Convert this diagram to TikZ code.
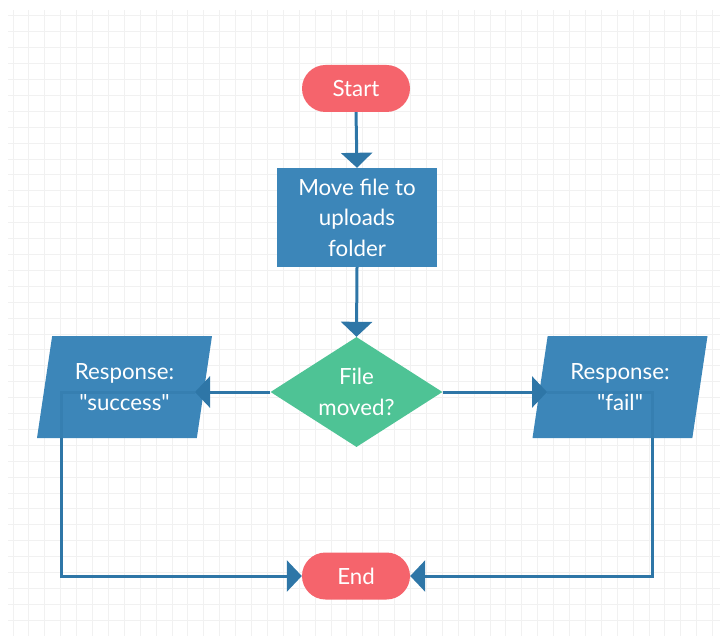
\documentclass[tikz,border=0pt]{standalone}
\usepackage{fontspec}
\setmainfont{Lato}[Ligatures=TeXOff]
\usetikzlibrary{shapes.geometric,arrows.meta}

\definecolor{termred}{HTML}{F5646C}
\definecolor{procblue}{HTML}{3C86B9}
\definecolor{decgreen}{HTML}{4EC395}
\definecolor{linkblue}{HTML}{2E76A7}
\definecolor{gridgray}{HTML}{F1F1F1}

\pgfdeclarelayer{gridlayer}
\pgfdeclarelayer{links}
\pgfdeclarelayer{overlay}
\pgfsetlayers{gridlayer,links,main,overlay}

\tikzset{
  x=1pt, y=-1pt,
  label text/.style={text=white, font=\fontsize{22.3}{30.5}\selectfont, align=center},
  terminal/.style={label text, fill=termred, rounded corners=23.5pt,
    minimum width=108pt, minimum height=47pt, inner sep=0pt},
  process/.style={label text, fill=procblue,
    minimum width=160pt, minimum height=99pt, inner sep=0pt},
  decision/.style={label text, fill=decgreen, diamond, aspect=1.56,
    minimum width=172pt, minimum height=110pt, inner sep=0pt},
  io/.style={label text, fill=procblue,
    trapezium, trapezium left angle=72, trapezium right angle=108,
    trapezium stretches body, minimum width=175pt, minimum height=102pt,
    inner sep=0pt},
  link/.style={draw=linkblue, line width=3pt},
  seethrough/.style={link, draw opacity=0.4},
  flow/.style={link, -{Triangle[width=31pt,length=15pt]}},
}

\begin{document}
\begin{tikzpicture}
\useasboundingbox (0,0) rectangle (722,636);

% background grid
\begin{pgfonlayer}{gridlayer}
  \foreach \i in {0,...,44} {
    \draw[gridgray, line width=1pt] (13+15.9*\i,10) -- (13+15.9*\i,636);
  }
  \foreach \j in {0,...,38} {
    \draw[gridgray, line width=1pt] (8,16+15.9*\j) -- (720,16+15.9*\j);
  }
\end{pgfonlayer}

% nodes
\node[terminal] (start) at (356,88.5) {Start};
\node[process] (move) at (357,217.5) {Move file to\\uploads\\folder};
\node[decision] (moved) at (356.5,392) {File\\moved?};
\node[io] (success) at (124.5,387) {Response:\\"success"};
\node[io] (fail) at (620,387) {Response:\\"fail"};
\node[terminal] (end) at (356,576) {End};

% turning points of the return paths
\coordinate (sTurn) at (61,392);
\coordinate (fTurn) at (652,392);
\coordinate (sTip) at (195,392);
\coordinate (fTip) at (547,392);

% return paths, running behind the response shapes
\begin{pgfonlayer}{links}
  \draw[flow] (sTurn) |- (end.west);
  \draw[flow] (fTurn) |- (end.east);
\end{pgfonlayer}

% forward connectors
\draw[flow] (start.south) -- (move.north);
\draw[flow] (move.south) -- (moved.north);
\draw[flow] (moved.west) -- (sTip);
\draw[flow] (moved.east) -- (fTip);

% the parts of the return paths that show through the response shapes
\begin{pgfonlayer}{overlay}
  \draw[seethrough] (sTip) -- (sTurn) -- (sTurn |- success.south);
  \draw[seethrough] (fTip) -- (fTurn) -- (fTurn |- fail.south);
\end{pgfonlayer}
\end{tikzpicture}
\end{document}
